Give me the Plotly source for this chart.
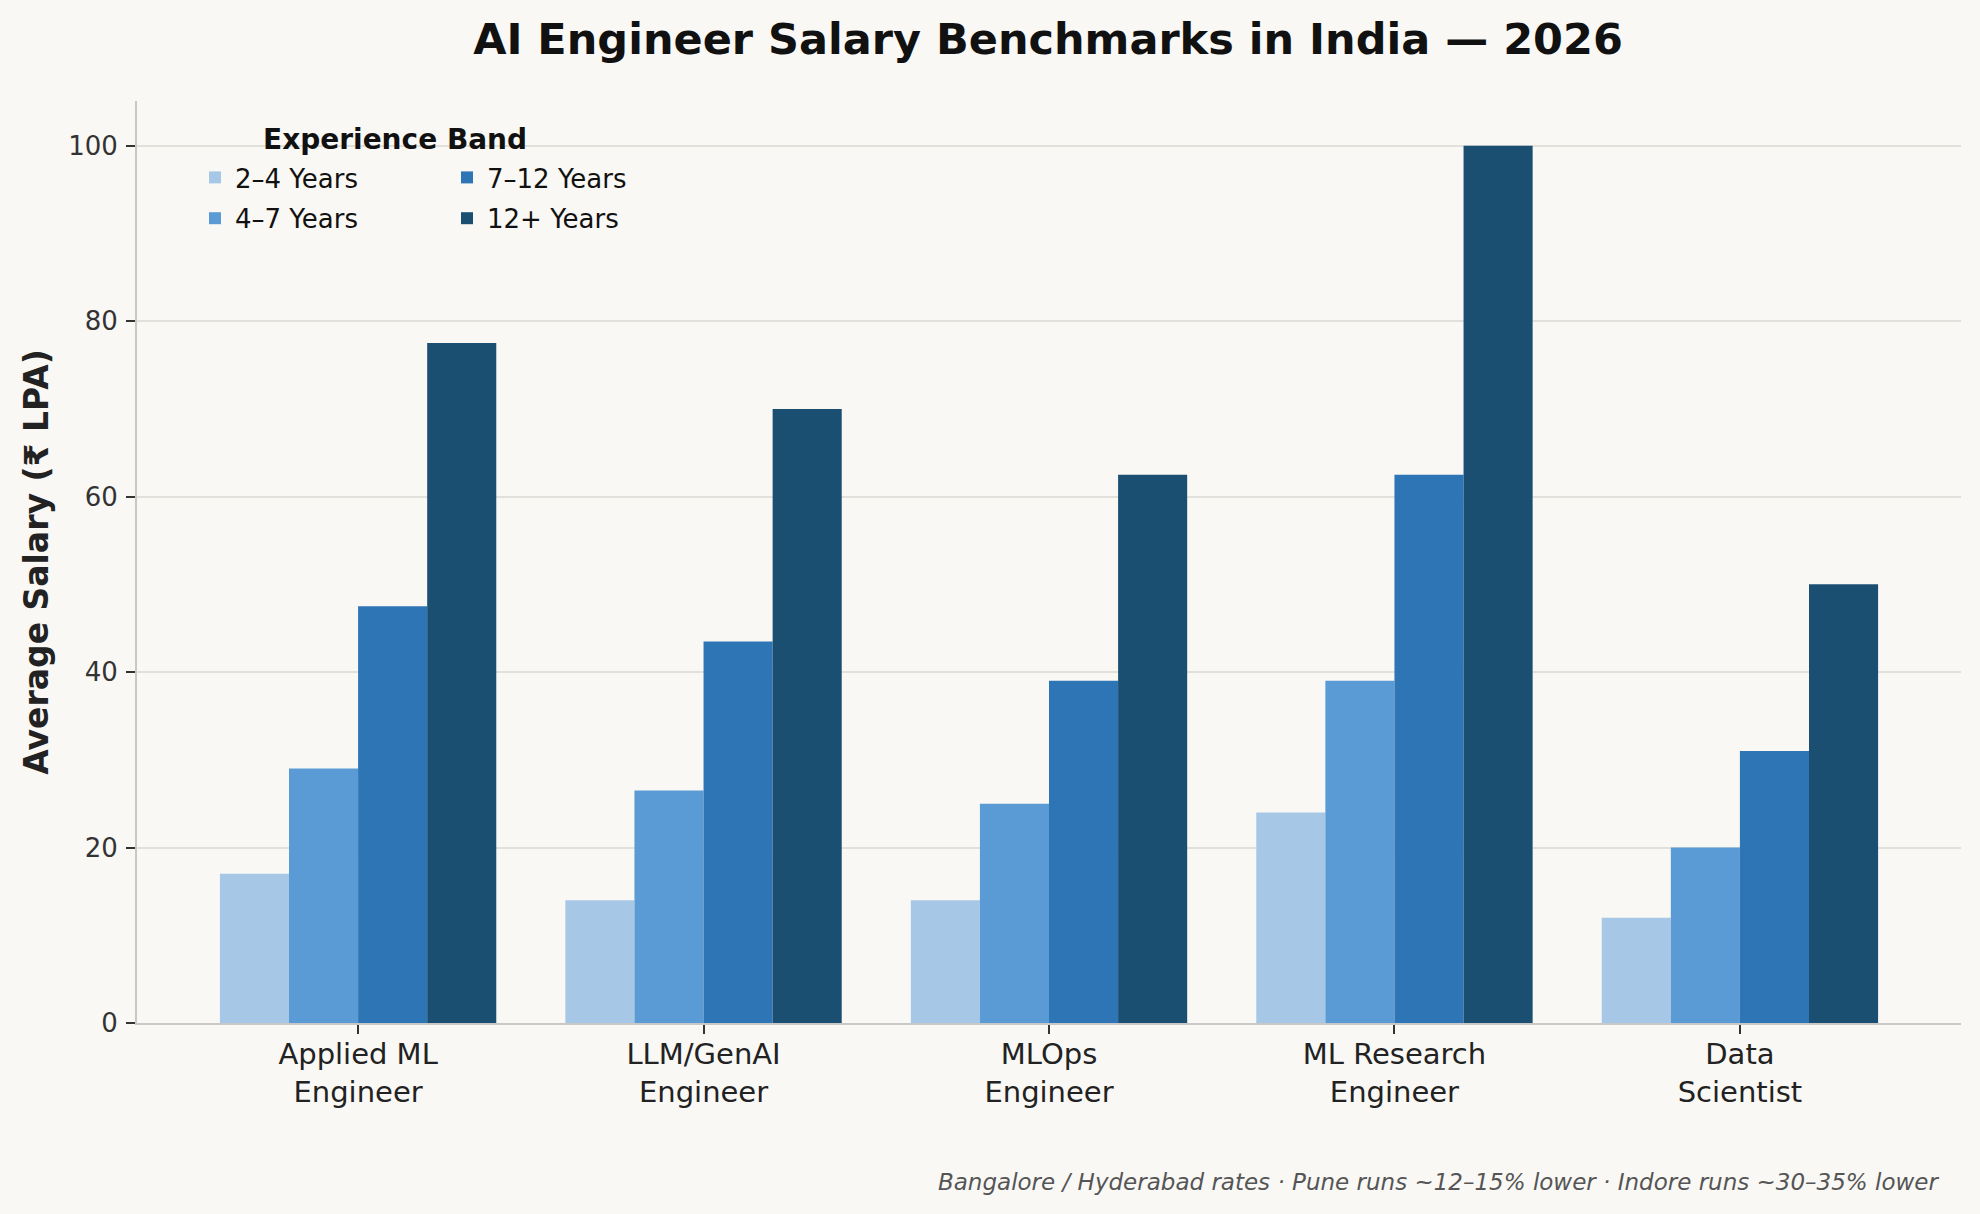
import plotly.graph_objects as go

roles = ["Applied ML<br>Engineer", "LLM/GenAI<br>Engineer", "MLOps<br>Engineer",
         "ML Research<br>Engineer", "Data<br>Scientist"]
bands = ["2–4 Years", "4–7 Years", "7–12 Years", "12+ Years"]
sal_2_4 = [17, 14, 14, 24, 12]
sal_4_7 = [29, 26.5, 25, 39, 20]
sal_7_12 = [47.5, 43.5, 39, 62.5, 31]
sal_12p = [77.5, 70, 62.5, 100, 50]
series = [sal_2_4, sal_4_7, sal_7_12, sal_12p]
colors = ["#a7c7e7", "#5b9bd5", "#2e75b6", "#1b4f72"]
legend_ids = ["legend", "legend", "legend2", "legend2"]
y_ticks = [0, 20, 40, 60, 80, 100]

BG = "#f9f8f5"
FONT = "DejaVu Sans"

fig = go.Figure()
for name, vals, col, lg in zip(bands, series, colors, legend_ids):
    fig.add_trace(go.Bar(x=roles, y=vals, name=name, marker=dict(color=col, line=dict(width=0)),
                         legend=lg, legendgroup=name))

W, H = 1980, 1214
L, R, T, B = 137, 19, 101, 191
pw, ph = W - L - R, H - T - B

def px_x(p):
    return (p - L) / pw

def px_y(p):
    return (H - B - p) / ph

leg_common = dict(bgcolor="rgba(0,0,0,0)", borderwidth=0,
                  font=dict(family=FONT, size=26, color="#111111"),
                  orientation="v", xanchor="left", yanchor="top",
                  tracegroupgap=4)

fig.update_layout(
    width=W, height=H,
    margin=dict(l=L, r=R, t=T, b=B),
    paper_bgcolor=BG, plot_bgcolor=BG,
    font=dict(family=FONT, color="#333333"),
    barmode="group", bargap=0.2, bargroupgap=0,
    title=dict(text="<b>AI Engineer Salary Benchmarks in India — 2026</b>",
               font=dict(family=FONT, size=43, color="#111111"),
               x=px_x(1048), xref="paper", xanchor="center",
               y=1 - 39 / H, yref="container", yanchor="middle"),
    xaxis=dict(range=[-0.64, 4.64], showline=True, linecolor="#c8c8c8", linewidth=2,
               ticks="outside", ticklen=9, tickwidth=1.5, tickcolor="#333333",
               tickfont=dict(family=FONT, size=29, color="#222222"),
               ticklabelstandoff=-5,
               showgrid=False, zeroline=False, automargin=False),
    yaxis=dict(range=[0, 105.1], tickvals=y_ticks, showline=True, linecolor="#c8c8c8", linewidth=2,
               ticks="outside", ticklen=9, tickwidth=1.5, tickcolor="#333333",
               tickfont=dict(family=FONT, size=26, color="#333333"),
               ticklabelstandoff=3,
               showgrid=True, gridcolor="#e2e0db", gridwidth=1.5, zeroline=False,
               automargin=False,
               title=dict(text="<b>Average Salary (₹ LPA)</b>", standoff=10,
                          font=dict(family=FONT, size=33, color="#222222"))),
    legend=dict(x=px_x(195), y=px_y(154), **leg_common),
    legend2=dict(x=px_x(447), y=px_y(154), **leg_common),
    annotations=[
        dict(text="<b>Experience Band</b>", x=px_x(395), y=px_y(139), xref="paper", yref="paper",
             xanchor="center", yanchor="middle", showarrow=False,
             font=dict(family=FONT, size=28, color="#111111")),
        dict(text="<i>Bangalore / Hyderabad rates · Pune runs ~12–15% lower · Indore runs ~30–35% lower</i>",
             x=px_x(1941), y=px_y(1182), xref="paper", yref="paper",
             xanchor="right", yanchor="middle", showarrow=False,
             font=dict(family=FONT, size=23, color="#555555")),
    ],
)

fig.write_html("out.html")
